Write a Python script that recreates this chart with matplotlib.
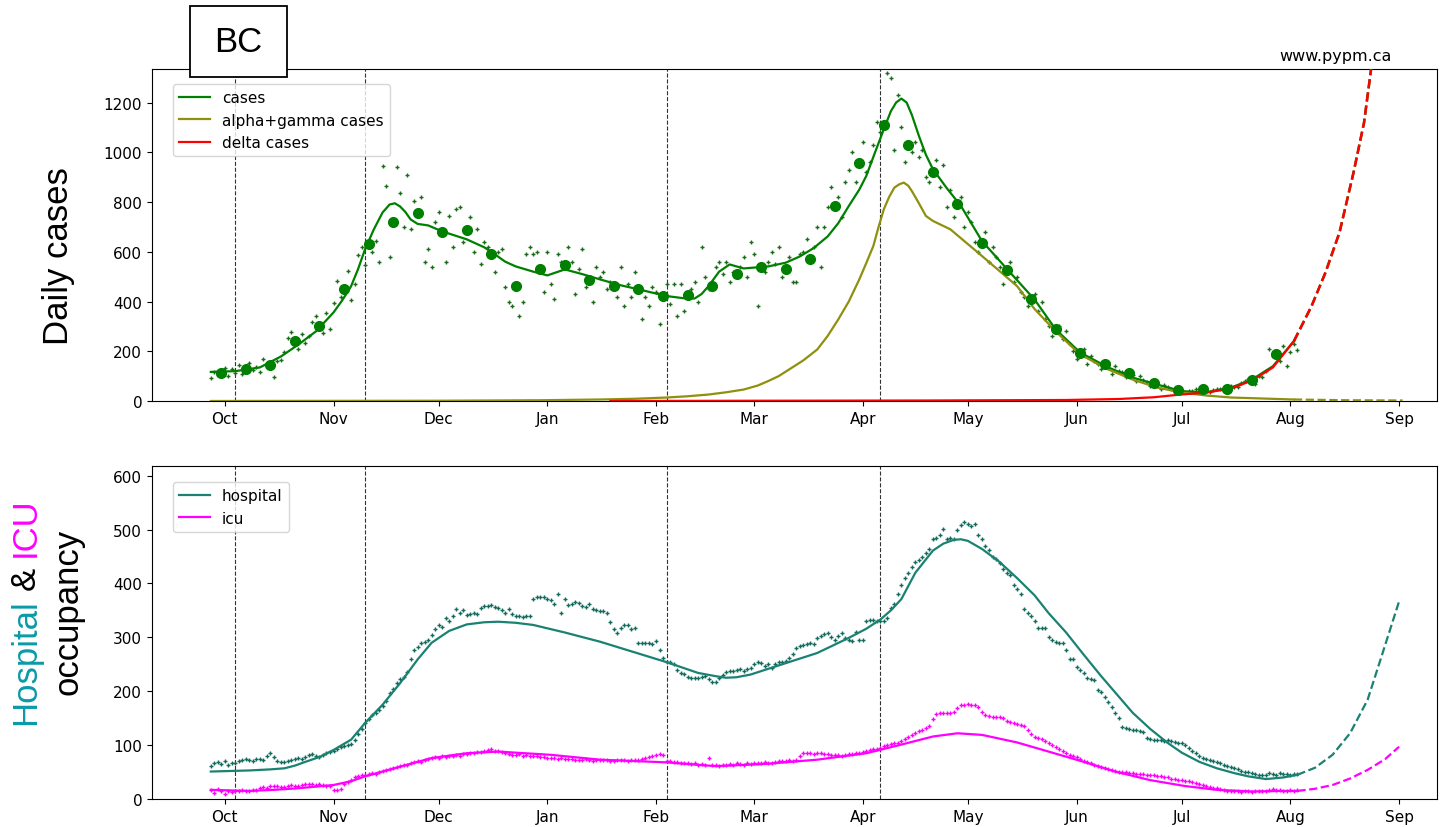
import numpy as np
import matplotlib
matplotlib.use("Agg")
import matplotlib.pyplot as plt
import matplotlib.dates as mdates
from matplotlib.patches import Rectangle

# all day numbers below count from 2020-10-01
DAY0 = np.datetime64("2020-10-01")

# ---- daily reported cases (one row per week, first day 2020-09-27)
cases_daily_start = -4
cases_daily = [
    92, 118, 104, 113, 134, 99, 127,
    112, 146, 108, 130, 152, 124, 136,
    118, 168, 150, 143, 96, 160, 166,
    198, 252, 276, 241, 210, 268, 232,
    262, 318, 342, 301, 272, 352, 288,
    392, 482, 420, 451, 522, 408, 470,
    588, 620, 545, 633, 598, 642, 560,
    945, 864, 580, 720, 940, 838, 700,
    910, 690, 805, 757, 820, 560, 610,
    540, 720, 760, 679, 560, 745, 620,
    770, 780, 640, 686, 740, 600, 690,
    550, 640, 620, 590, 520, 600, 610,
    460, 400, 380, 462, 340, 400, 590,
    620, 590, 600, 529, 440, 600, 470,
    410, 590, 560, 545, 620, 560, 430,
    530, 610, 460, 485, 400, 540, 500,
    520, 450, 480, 462, 420, 540, 380,
    470, 420, 520, 451, 330, 420, 380,
    460, 440, 310, 422, 470, 390, 470,
    340, 470, 360, 428, 450, 480, 400,
    620, 500, 450, 462, 540, 560, 510,
    560, 480, 520, 509, 540, 580, 500,
    640, 590, 380, 540, 520, 560, 600,
    550, 620, 500, 529, 580, 480, 480,
    590, 600, 650, 572, 620, 700, 540,
    700, 780, 860, 784, 820, 740, 880,
    930, 1000, 880, 956, 1040, 920, 960,
    1030, 1120, 1080, 1110, 1320, 1300, 1010,
    1230, 1100, 960, 1028, 1000, 1040, 980,
    1010, 900, 880, 921, 970, 860, 950,
    780, 850, 740, 791, 820, 700, 760,
    720, 640, 600, 634, 680, 560, 620,
    580, 540, 470, 526, 560, 480, 500,
    440, 420, 380, 411, 430, 360, 400,
    330, 300, 260, 288, 300, 250, 280,
    230, 200, 170, 194, 210, 150, 180,
    160, 150, 130, 147, 155, 110, 140,
    120, 115, 95, 113, 105, 80, 100,
    85, 75, 60, 73, 70, 50, 65,
    55, 50, 38, 46, 44, 35, 42,
    42, 48, 36, 49, 40, 38, 45,
    50, 48, 40, 49, 62, 55, 58,
    72, 80, 90, 86, 70, 100, 95,
    120, 210, 180, 187, 160, 220, 140,
    195, 230, 205,
]

# weekly averages (big dots), first one 2020-09-30
cases_weekly_start = -1
cases_weekly = [113, 130, 143, 241, 301, 451, 633, 720, 757, 679,
                686, 590, 462, 529, 545, 485, 462, 451, 422, 428,
                462, 509, 540, 529, 572, 784, 956, 1110, 1028, 921,
                791, 634, 526, 411, 288, 194, 147, 113, 73, 46,
                49, 49, 86, 187]

# ---- model curves, top panel
cases_model_days = [-4, 3, 10, 16, 21, 26, 31, 33.5, 36, 38, 40, 42.5, 45, 47,
                    48.5, 50, 51.5, 53, 55, 58, 62, 69, 74, 77, 80, 83, 88, 92,
                    97, 102, 107, 113, 118, 126, 131, 134, 136, 138, 141, 144,
                    148, 155, 160, 164, 168, 172, 175, 178, 181, 183, 185.5,
                    188, 190, 191.5, 193, 194.5, 196, 198, 200, 202, 206, 210,
                    216, 224, 231, 237, 244, 252, 259, 266, 273, 280, 287, 293,
                    299, 305]
cases_model = [117, 120, 135, 179, 227, 280, 356, 405, 461, 530, 610, 690, 758,
               790, 795, 782, 760, 730, 712, 706, 682, 650, 618, 590, 560, 541,
               520, 505, 529, 510, 489, 465, 449, 422, 413, 412, 430, 462, 520,
               549, 533, 541, 556, 581, 615, 662, 715, 784, 850, 905, 1000,
               1093, 1165, 1200, 1216, 1200, 1150, 1066, 990, 932, 855, 784,
               643, 517, 408, 288, 195, 135, 94, 66, 39, 35, 54, 86, 140, 241]

alpha_model_days = [-4, 60, 90, 107, 117, 126, 132, 138, 143, 148, 152, 155,
                    158, 161, 165, 169, 172, 175, 178, 181, 183, 185, 186.5, 188,
                    189.5, 191, 192.5, 193.7, 195, 196, 198, 200, 202, 207, 216,
                    226, 231, 237, 244, 252, 259, 266, 273, 280, 287, 296, 305]
alpha_model = [0, 1, 3, 6, 9, 14, 19, 26, 35, 46, 62, 80, 100, 127, 163, 207,
               262, 328, 400, 489, 555, 623, 700, 771, 820, 858, 872, 878, 865,
               844, 795, 744, 724, 690, 583, 462, 370, 280, 187, 127, 86, 54, 34,
               22, 14, 10, 6]

delta_model_days = [110, 150, 200, 240, 255, 265, 272, 280, 287, 293, 299, 305]
delta_model = [0, 1, 2, 4, 8, 15, 25, 34, 50, 82, 135, 241]

# projections (dashed)
delta_proj_days = [305, 310, 314, 318, 322, 325, 327, 331, 336]
delta_proj = [241, 381, 517, 678, 919, 1120, 1334, 1800, 2600]
alpha_proj_days = [305, 320, 336]
alpha_proj = [6, 3, 2]

# ---- hospital / icu occupancy (daily, first day 2020-09-27)
occ_daily_start = -4
hospital_daily = [
    62, 66, 68, 65, 70, 64, 67,
    66, 70, 72, 74, 73, 71, 75,
    74, 72, 80, 86, 78, 70, 68,
    68, 70, 72, 74, 76, 75, 78,
    82, 84, 80, 78, 82, 86, 88,
    90, 92, 97, 98, 100, 103, 110,
    120, 130, 141, 148, 155, 160, 166,
    172, 182, 197, 205, 215, 222, 227,
    235, 260, 277, 282, 290, 292, 296,
    305, 315, 322, 320, 335, 330, 340,
    352, 345, 350, 342, 343, 345, 343,
    355, 358, 358, 360, 356, 354, 350,
    346, 352, 344, 340, 339, 338, 339,
    340, 372, 374, 375, 374, 372, 370,
    362, 380, 346, 372, 360, 362, 366,
    364, 358, 356, 362, 352, 350, 349,
    348, 346, 328, 315, 309, 318, 322,
    322, 316, 318, 290, 290, 290, 290,
    288, 293, 277, 262, 254, 254, 250,
    240, 234, 232, 226, 225, 225, 225,
    226, 228, 222, 218, 218, 224, 230,
    236, 237, 237, 240, 242, 238, 241,
    244, 250, 254, 252, 246, 250, 244,
    250, 254, 255, 256, 262, 270, 281,
    284, 285, 288, 290, 288, 298, 302,
    306, 309, 300, 296, 302, 308, 298,
    296, 294, 310, 296, 295, 330, 333,
    332, 331, 330, 330, 335, 355, 362,
    380, 398, 410, 420, 430, 439, 444,
    450, 456, 464, 482, 485, 490, 501,
    482, 484, 483, 500, 508, 514, 510,
    507, 510, 490, 482, 470, 462, 450,
    445, 438, 426, 420, 415, 398, 389,
    380, 352, 345, 339, 330, 318, 318,
    318, 300, 296, 292, 290, 290, 276,
    260, 259, 245, 240, 234, 225, 222,
    220, 203, 198, 190, 180, 170, 160,
    150, 134, 132, 130, 128, 128, 126,
    124, 114, 112, 110, 110, 110, 108,
    110, 108, 106, 104, 104, 100, 95,
    90, 85, 80, 76, 74, 72, 70,
    68, 66, 64, 62, 60, 58, 55,
    52, 50, 50, 48, 46, 45, 45,
    44, 48, 46, 44, 48, 47, 46,
    45, 47, 46,
]
icu_daily = [
    16, 12, 18, 14, 10, 15, 13,
    14, 15, 16, 14, 15, 17, 16,
    20, 22, 21, 24, 25, 24, 23,
    22, 24, 26, 25, 24, 26, 27,
    28, 27, 26, 28, 26, 25, 24,
    17, 16, 18, 28, 32, 36, 40,
    42, 44, 45, 46, 48, 47, 50,
    52, 54, 56, 58, 60, 62, 63,
    64, 66, 68, 70, 69, 72, 74,
    76, 78, 77, 80, 78, 79, 80,
    81, 80, 83, 84, 85, 86, 88,
    88, 90, 91, 92, 90, 89, 88,
    86, 84, 82, 82, 83, 80, 81,
    80, 79, 80, 78, 78, 77, 76,
    76, 75, 76, 74, 75, 74, 73,
    73, 72, 74, 72, 71, 73, 72,
    73, 72, 70, 71, 73, 72, 72,
    71, 72, 73, 72, 74, 76, 78,
    80, 82, 84, 82, 70, 70, 68,
    68, 67, 66, 66, 65, 66, 64,
    65, 64, 77, 64, 63, 62, 63,
    64, 65, 64, 66, 65, 64, 66,
    65, 66, 67, 66, 68, 67, 66,
    68, 70, 71, 70, 72, 71, 72,
    80, 85, 86, 85, 84, 86, 85,
    84, 83, 82, 81, 82, 80, 82,
    83, 84, 85, 86, 88, 90, 91,
    92, 92, 94, 98, 101, 102, 104,
    104, 108, 112, 115, 118, 122, 126,
    128, 132, 135, 148, 158, 160, 160,
    160, 160, 162, 168, 175, 175, 176,
    175, 174, 170, 162, 156, 154, 153,
    153, 152, 150, 145, 142, 141, 140,
    138, 136, 128, 120, 116, 114, 112,
    108, 104, 100, 96, 92, 90, 86,
    82, 80, 78, 74, 70, 68, 66,
    64, 62, 60, 58, 56, 54, 52,
    51, 50, 50, 49, 48, 47, 46,
    46, 45, 44, 44, 43, 42, 40,
    40, 38, 38, 36, 35, 34, 33,
    32, 30, 28, 26, 24, 22, 20,
    20, 18, 16, 15, 14, 14, 14,
    13, 14, 14, 13, 14, 15, 14,
    15, 16, 18, 17, 16, 15, 15,
    16, 15, 16,
]

hospital_model_days = [-4, 7, 13, 17, 20, 23, 27, 31, 36, 40, 45, 50, 55, 59,
                       64, 69, 74, 78, 83, 88, 97, 107, 116, 126, 135, 140, 143,
                       146, 150, 159, 169, 178, 183, 187, 190, 193, 197, 202,
                       205, 208, 210, 212, 216, 221, 226, 231, 235, 240, 245,
                       250, 259, 264, 269, 273, 278, 283, 288, 292, 297, 302, 306]
hospital_model = [51, 53, 55, 57, 62, 69, 78, 91, 110, 141, 175, 215, 259, 290,
                  312, 324, 328, 329, 327, 323, 309, 292, 274, 254, 234, 228,
                  225, 226, 231, 250, 271, 299, 316, 333, 350, 371, 420, 461,
                  474, 481, 482, 479, 464, 440, 410, 378, 345, 309, 268, 228,
                  160, 130, 104, 86, 69, 57, 48, 42, 37, 40, 45]
hospital_proj_days = [306, 311, 316, 321, 326, 330, 335]
hospital_proj = [45, 58, 82, 122, 184, 265, 367]

icu_model_days = [-4, 7, 14, 21, 31, 36, 40, 45, 50, 59, 69, 78, 93, 107, 126,
                  140, 154, 169, 183, 193, 202, 209, 216, 226, 235, 245, 254,
                  264, 274, 283, 293, 302, 306]
icu_model = [17, 15, 17, 20, 26, 33, 42, 51, 60, 76, 85, 88, 82, 73, 68, 61, 65,
             73, 85, 101, 116, 122, 119, 105, 88, 69, 51, 35, 24, 17, 14, 15, 15]
icu_proj_days = [306, 311, 316, 321, 326, 331, 335]
icu_proj = [15, 19, 26, 38, 54, 74, 97]

# dates where the model parameters change (dashed vertical lines)
change_days = [3, 40, 126, 187]


def to_dates(days):
    hours = np.round(np.array(days, dtype=float) * 24).astype("timedelta64[h]")
    return DAY0.astype("datetime64[h]") + hours


def daily_dates(start, values):
    return DAY0 + np.arange(start, start + len(values)).astype("timedelta64[D]")


def label_parts(fig, x_px, y_px, parts, size):
    # stacked, rotated text with different colours per word
    renderer = fig.canvas.get_renderer()
    W, H = fig.bbox.width, fig.bbox.height
    gap = 0.278 * size * fig.dpi / 72
    y = y_px
    for text, color in parts:
        t = fig.text(x_px / W, 1 - y / H, text, rotation=90,
                     rotation_mode="anchor", ha="left", va="baseline",
                     color=color, fontsize=size, family="Liberation Sans")
        bb = t.get_window_extent(renderer)
        y = H - bb.y1 - gap


def style_axis(ax, ymax, yticks):
    ax.set_xlim(np.datetime64("2020-09-10T05:00"), np.datetime64("2021-09-11T19:00"))
    ax.set_ylim(0, ymax)
    ax.set_yticks(yticks)
    ax.xaxis.set_major_locator(mdates.MonthLocator())
    ax.xaxis.set_major_formatter(mdates.DateFormatter("%b"))
    ax.tick_params(labelsize=11)
    for d in change_days:
        ax.axvline(to_dates([d])[0], color="#333333", ls="--", lw=0.8, zorder=1)


fig = plt.figure(figsize=(14.5, 8.28), dpi=100)

# ---------------- top: daily cases
ax1 = fig.add_axes([0.1048, 0.5145, 0.8862, 0.4010])
style_axis(ax1, 1335, range(0, 1201, 200))

ax1.plot(to_dates(cases_model_days), cases_model, color="green", lw=1.6,
         label="cases", zorder=3)
ax1.plot(daily_dates(cases_daily_start, cases_daily), cases_daily, ls="none",
         marker="+", ms=3.5, mew=1.0, color="#1b6b1b", zorder=2)
ax1.plot(to_dates(cases_weekly_start + 7 * np.arange(len(cases_weekly))),
         cases_weekly, ls="none", marker="o", ms=7, color="green", zorder=4)
ax1.plot(to_dates(alpha_model_days), alpha_model, color="#8f8f10", lw=1.6,
         label="alpha+gamma cases", zorder=3)
ax1.plot(to_dates(delta_model_days), delta_model, color="red", lw=1.6,
         label="delta cases", zorder=3)
ax1.plot(to_dates(alpha_proj_days), alpha_proj, color="#8f8f10", lw=1.6,
         ls="--", zorder=3)
ax1.plot(to_dates(delta_proj_days), delta_proj, color="green", lw=1.8,
         ls="--", zorder=3)
ax1.plot(to_dates(delta_proj_days), delta_proj, color="red", lw=1.8,
         ls="--", zorder=3)
ax1.legend(loc="upper left", bbox_to_anchor=(0.0165, 0.955), borderaxespad=0,
           fontsize=11)

# ---------------- bottom: hospital / icu
ax2 = fig.add_axes([0.1048, 0.0338, 0.8862, 0.4022])
style_axis(ax2, 618, range(0, 601, 100))

ax2.plot(to_dates(hospital_model_days), hospital_model, color="#1a8272", lw=1.6,
         label="hospital", zorder=3)
ax2.plot(to_dates(icu_model_days), icu_model, color="magenta", lw=1.6,
         label="icu", zorder=3)
ax2.plot(daily_dates(occ_daily_start, hospital_daily), hospital_daily, ls="none",
         marker="+", ms=3.5, mew=1.0, color="#136b5e", zorder=2)
ax2.plot(daily_dates(occ_daily_start, icu_daily), icu_daily, ls="none",
         marker="+", ms=3.5, mew=1.0, color="magenta", zorder=2)
ax2.plot(to_dates(hospital_proj_days), hospital_proj, color="#1a8272", lw=1.6,
         ls="--", zorder=3)
ax2.plot(to_dates(icu_proj_days), icu_proj, color="magenta", lw=1.6,
         ls="--", zorder=3)
ax2.legend(loc="upper left", bbox_to_anchor=(0.0165, 0.952), borderaxespad=0,
           fontsize=11)

# ---------------- labels and annotations
label_parts(fig, 68, 345, [("Daily cases", "black")], 25)
label_parts(fig, 35, 725, [("Hospital", "#0a9aa6"), ("&", "black"),
                           ("ICU", "#ff00ff")], 25)
label_parts(fig, 77, 695, [("occupancy", "black")], 25)

fig.text(1336 / 1450, 1 - 57 / 828, "www.pypm.ca", ha="center", va="center",
         fontsize=11.5)

fig.add_artist(Rectangle((190 / 1450, 1 - 78 / 828), 97 / 1450, 71 / 828,
                         transform=fig.transFigure, facecolor="white",
                         edgecolor="black", lw=1.3, zorder=5))
fig.text(238.5 / 1450, 1 - 43 / 828, "BC", ha="center", va="center",
         fontsize=25, family="Liberation Sans", zorder=6)

fig.savefig("out.png", dpi=100)
plt.close(fig)
